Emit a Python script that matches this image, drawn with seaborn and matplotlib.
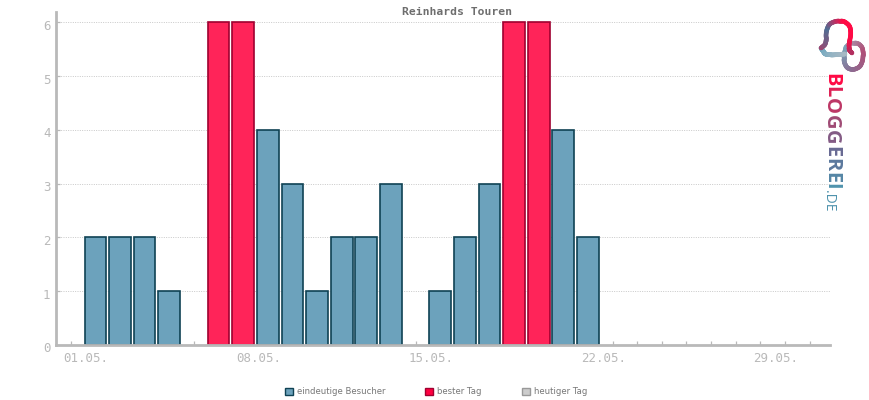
import numpy as np
import pandas as pd
import seaborn as sns
import matplotlib.pyplot as plt
from matplotlib.collections import LineCollection
from matplotlib.colors import LinearSegmentedColormap
from matplotlib.patches import Patch
from matplotlib.transforms import ScaledTranslation

# one value per day, bars sit on the tick
days = ['%02d.05.' % d for d in range(1, 32)]
visits = [0, 2, 2, 2, 1, 0, 6, 6, 4, 3, 1, 2, 2, 3, 0, 1, 2, 3, 6, 6, 4, 2,
          0, 0, 0, 0, 0, 0, 0, 0, 0]
best = [0, 0, 0, 0, 0, 0, 1, 1, 0, 0, 0, 0, 0, 0, 0, 0, 0, 0, 1, 1, 0, 0,
        0, 0, 0, 0, 0, 0, 0, 0, 0]
labelled = ['01.05.', '08.05.', '15.05.', '22.05.', '29.05.']
series = ['eindeutige Besucher', 'bester Tag', 'heutiger Tag']
fills = ['#6ca2bc', '#ff2459', '#cccccc']
edges = ['#0f4254', '#a00030', '#999999']

W, H = 870, 400
GRAY = '#b9b9b9'

sns.set_style('white')
plt.rcParams['font.family'] = ['DejaVu Sans Mono']

df = pd.DataFrame({'day': days, 'visits': visits, 'best': best})
df['kind'] = [series[1] if b else series[0] for b in df['best']]
df = df[df['visits'] > 0]

fig = plt.figure(figsize=(W / 100, H / 100), dpi=100)
ax = fig.add_axes([56 / W, 1 - 345 / H, (830.5 - 56) / W, (345 - 12) / H])

sns.barplot(data=df, x='day', y='visits', hue='kind', order=days,
            hue_order=series[:2], palette=fills[:2], dodge=False, width=0.88,
            saturation=1, linewidth=1.2, legend=False, ax=ax, zorder=2)
for cont, ec in zip(ax.containers, edges):
    for bar in cont:
        bar.set_edgecolor(ec)

ax.set_xlim(-0.6, 30.85)
ax.set_ylim(0, 6.19)
ax.set_xlabel('')
ax.set_ylabel('')
ax.set_yticks(range(0, 7))
ax.grid(axis='y', color='#c8c8c8', linestyle=(0, (1, 1.4)), linewidth=0.7, zorder=1)
ax.set_axisbelow(True)
ax.patch.set_alpha(0)

for side in ['top', 'right']:
    ax.spines[side].set_visible(False)
for side in ['left', 'bottom']:
    ax.spines[side].set_color(GRAY)
    ax.spines[side].set_linewidth(2)
    ax.spines[side].set_zorder(3)

ax.set_xticks(range(len(days)))
ax.set_xticklabels([d if d in labelled else '' for d in days])
ax.tick_params(axis='both', which='major', direction='in', length=3, width=0.9,
               color=GRAY, labelcolor=GRAY, left=True, bottom=True)
ax.tick_params(axis='x', labelsize=9, pad=5)
ax.tick_params(axis='y', labelsize=9, pad=4)

# labels are shifted off their ticks in the original
off_x = ScaledTranslation(15.4 / 100, 0, fig.dpi_scale_trans)
off_y = ScaledTranslation(0, -2.5 / 100, fig.dpi_scale_trans)
for lab in ax.get_xticklabels():
    lab.set_transform(lab.get_transform() + off_x)
for lab in ax.get_yticklabels():
    lab.set_transform(lab.get_transform() + off_y)

fig.text(457.5 / W, 1 - 12 / H, 'Reinhards Touren', ha='center', va='center',
         fontsize=8.2, fontweight='bold', color='#6e6e6e')

handles = [Patch(facecolor=f, edgecolor=e, linewidth=1, label=s)
           for f, e, s in zip(['#6ca2bc', '#ff0040', '#cccccc'], edges, series)]
fig.legend(handles=handles, ncol=3, loc='center', bbox_to_anchor=(436 / W, 1 - 392 / H),
           frameon=False, prop={'family': 'DejaVu Sans', 'size': 6.1},
           labelcolor='#777777', handlelength=0.95, handleheight=0.95,
           handletextpad=0.5, columnspacing=4.7, borderpad=0)

# logo, drawn in pixel coordinates
logo = fig.add_axes([0, 0, 1, 1], zorder=5)
logo.set_xlim(0, W)
logo.set_ylim(H, 0)
logo.axis('off')
grad = LinearSegmentedColormap.from_list('b', ['#ff0a45', '#a8446f', '#5f6f98', '#4f93ad'])


def stroke(pts, colors, lw=3.3):
    pts = np.array(pts, dtype=float)
    t = np.linspace(0, 1, 90)
    k = np.linspace(0, 1, len(pts))
    xs = np.interp(t, k, pts[:, 0])
    ys = np.interp(t, k, pts[:, 1])
    # smooth the polyline a little
    w = np.ones(7) / 7
    xs[3:-3] = np.convolve(xs, w, 'valid')
    ys[3:-3] = np.convolve(ys, w, 'valid')
    segs = [[(xs[i], ys[i]), (xs[i + 1], ys[i + 1])] for i in range(len(xs) - 1)]
    cmap = LinearSegmentedColormap.from_list('s', colors)
    lc = LineCollection(segs, colors=cmap(t[:-1]), linewidths=lw, capstyle='round')
    logo.add_collection(lc)


# small link
stroke([(846, 47), (850, 43), (858, 43), (863, 48), (863, 60), (860, 67), (853, 70),
        (847, 68), (844, 62), (844, 55), (846, 47)], ['#a4b4c4', '#b05078', '#8a6e94', '#7aa3b8'])
# bottom of the bubble
stroke([(821, 48), (825, 54), (832, 55), (845, 54)], ['#6ca8c0', '#a6b8c4'])
# big loop
stroke([(821, 48), (826, 44), (826, 32), (829, 24), (836, 21), (844, 21), (850, 26),
        (851, 34), (849, 44), (849, 50), (852, 53)],
       ['#a0446f', '#4f7095', '#ff0a45', '#ff0a45', '#b03060'])

name = 'BLOGGEREI'
widths = [11.5, 11, 15, 14.5, 14.5, 11.5, 12, 11.5, 5]
y = 74.0
for i, (ch, w) in enumerate(zip(name, widths)):
    logo.text(831, y + w / 2, ch, rotation=-90, ha='center', va='center',
              fontsize=14.5, fontweight='bold', family='Open Sans',
              color=grad(i / (len(name) - 1)))
    y += w + 1.1
logo.text(828.5, 201, '.DE', rotation=-90, ha='center', va='center', fontsize=10,
          family='Open Sans', color='#4f93ad')

fig.savefig('out.png', dpi=100)
